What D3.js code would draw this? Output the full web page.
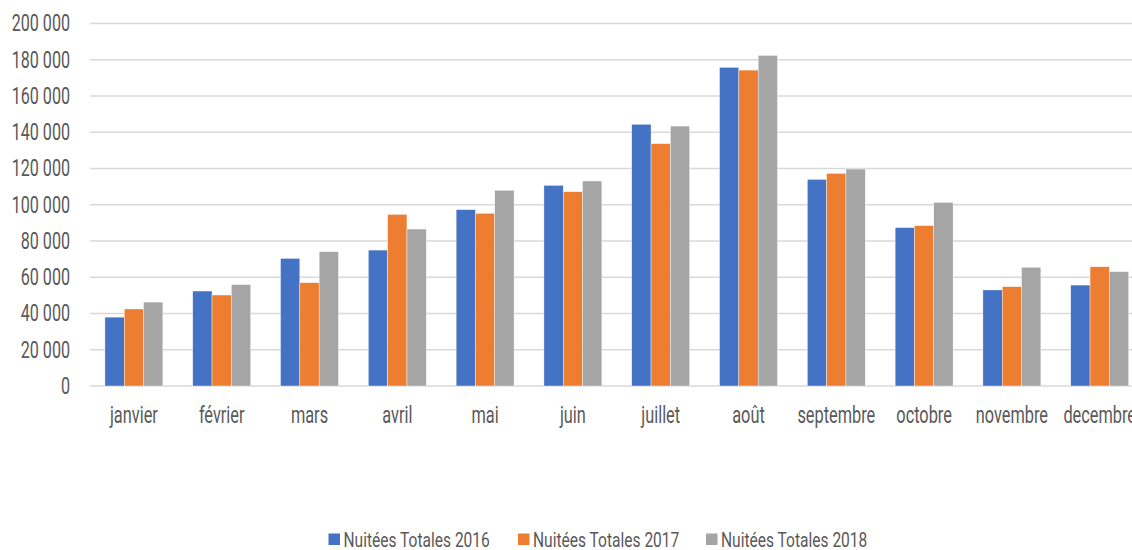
<!DOCTYPE html>
<html>
<head>
<meta charset="utf-8">
<script src="https://cdn.jsdelivr.net/npm/d3@7"></script>
<style>
  html, body { margin: 0; padding: 0; background: #fff; overflow: hidden; }
  text { font-family: Roboto, "Noto Sans", sans-serif; fill: #595959; }
</style>
</head>
<body>
<div id="chart"></div>
<script>
// chart data
var months = ["janvier", "février", "mars", "avril", "mai", "juin", "juillet", "août", "septembre", "octobre", "novembre", "decembre"];
var seriesNames = ["Nuitées Totales 2016", "Nuitées Totales 2017", "Nuitées Totales 2018"];
var values2016 = [38000, 52400, 70400, 75000, 97300, 110700, 144400, 175800, 114000, 87400, 53000, 55700];
var values2017 = [42500, 50200, 57000, 94700, 95300, 107200, 133700, 174300, 117300, 88500, 54800, 65800];
var values2018 = [46300, 55900, 74100, 86600, 108000, 113100, 143400, 182400, 119700, 101300, 65500, 63100];
var yTicks = [0, 20000, 40000, 60000, 80000, 100000, 120000, 140000, 160000, 180000, 200000];

var colors = ["#4472C4", "#ED7D31", "#A5A5A5"];

var width = 1132, height = 550;
var margin = {top: 23.5, left: 90, bottom: 164};
var plotRight = 1143.6;   // plot runs a bit past the window edge, like the source
var plot_height = height - margin.top - margin.bottom;

// no condensed font installed, so narrow the glyphs
function condense(factor) {
    return function(sel) {
        sel.each(function() {
            var w = this.getComputedTextLength();
            d3.select(this)
                .attr("textLength", w * factor)
                .attr("lengthAdjust", "spacingAndGlyphs");
        });
    };
}

// rows of {month, values}
var dataHold = months.map(function(m, i) {
    return {month: m, values: [values2016[i], values2017[i], values2018[i]]};
});

var svg = d3.select("#chart")
    .append("svg")
    .attr("width", width)
    .attr("height", height);

var g = svg.append("g")
    .attr("transform", "translate(" + margin.left + "," + margin.top + ")");

var xScale = d3.scaleBand()
    .domain(months)
    .range([0, plotRight - margin.left])
    .paddingInner(0.34)
    .paddingOuter(0.17);

var xInner = d3.scaleBand()
    .domain([0, 1, 2])
    .range([0, xScale.bandwidth()]);

var yScale = d3.scaleLinear()
    .domain([0, 200000])
    .range([plot_height, 0]);

var fr = d3.formatLocale({decimal: ",", thousands: " ", grouping: [3], currency: ["", " €"]});
var fmt = fr.format(",d");

// gridlines
g.append("g")
    .selectAll("line")
    .data(yTicks)
    .enter()
    .append("line")
    .attr("x1", 0)
    .attr("x2", plotRight - margin.left)
    .attr("y1", function(d) { return yScale(d); })
    .attr("y2", function(d) { return yScale(d); })
    .attr("stroke", "#D9D9D9")
    .attr("stroke-width", 1.5);

// y axis labels
var yAxis = d3.axisLeft(yScale)
    .tickValues(yTicks)
    .tickSize(0)
    .tickPadding(20)
    .tickFormat(fmt);

g.append("g")
    .attr("id", "y-axis")
    .call(yAxis)
    .call(function(a) { a.select(".domain").remove(); })
    .selectAll("text")
    .attr("font-size", "23px")
    .attr("fill", "#595959")
    .call(condense(0.7));

// bars
var groups = g.selectAll(".month")
    .data(dataHold)
    .enter()
    .append("g")
    .attr("class", "month")
    .attr("transform", function(d) { return "translate(" + xScale(d.month) + ",0)"; });

groups.selectAll("rect")
    .data(function(d) { return d.values; })
    .enter()
    .append("rect")
    .attr("x", function(d, i) { return xInner(i); })
    .attr("y", function(d) { return yScale(d); })
    .attr("width", xInner.bandwidth())
    .attr("height", function(d) { return plot_height - yScale(d); })
    .attr("fill", function(d, i) { return colors[i]; })
    .attr("stroke", "#ffffff")
    .attr("stroke-width", 0.4);

// x axis labels
var xAxis = d3.axisBottom(xScale)
    .tickSize(0)
    .tickPadding(21);

g.append("g")
    .attr("id", "x-axis")
    .attr("transform", "translate(0," + plot_height + ")")
    .call(xAxis)
    .call(function(a) { a.select(".domain").remove(); })
    .selectAll("text")
    .attr("font-size", "23px")
    .attr("fill", "#595959")
    .call(condense(0.71));

// legend
var legendX = [328.5, 518, 706];
var legend = svg.append("g")
    .selectAll("g")
    .data(seriesNames)
    .enter()
    .append("g")
    .attr("transform", function(d, i) { return "translate(" + legendX[i] + ",533.5)"; });

legend.append("rect")
    .attr("width", 11.5)
    .attr("height", 11.5)
    .attr("fill", function(d, i) { return colors[i]; });

legend.append("text")
    .attr("x", 15)
    .attr("y", 13)
    .attr("font-size", "21px")
    .text(function(d) { return d; })
    .call(condense(0.74));
</script>
</body>
</html>
